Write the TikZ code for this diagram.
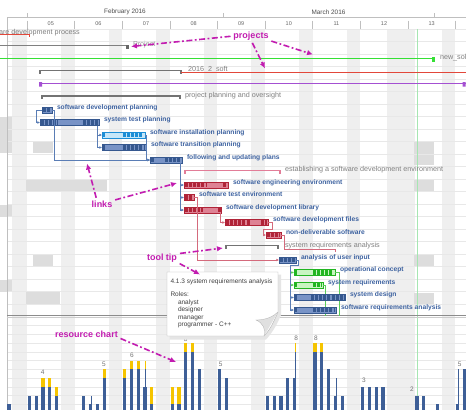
\documentclass[tikz,border=0pt]{standalone}
\usepackage{fontspec}
\setmainfont{Liberation Sans}
\usetikzlibrary{positioning,calc,arrows.meta}

\definecolor{taskblue}{HTML}{3D62A0}
\definecolor{barblue}{HTML}{7893C6}
\definecolor{darkblue}{HTML}{36588F}
\definecolor{barsky}{HTML}{C6E7F9}
\definecolor{darksky}{HTML}{1D8ED6}
\definecolor{barred}{HTML}{DE8294}
\definecolor{darkred}{HTML}{B02438}
\definecolor{bargreen}{HTML}{C8F5C2}
\definecolor{darkgreen}{HTML}{22B522}
\definecolor{linkblue}{HTML}{5A7DB5}
\definecolor{linkred}{HTML}{D46A7C}
\definecolor{linkgreen}{HTML}{5ACD5A}
\definecolor{sumgray}{HTML}{808080}
\definecolor{sumpink}{HTML}{E27D98}
\definecolor{weekend}{HTML}{EFEFEF}
\definecolor{freeblock}{HTML}{DDDDDD}
\definecolor{gridline}{HTML}{E8E8E8}
\definecolor{notepink}{HTML}{C21CB0}
\definecolor{loadblue}{HTML}{3E5F97}
\definecolor{loadyellow}{HTML}{F5C400}
\definecolor{projgreen}{HTML}{35E035}
\definecolor{projred}{HTML}{E2473A}
\definecolor{projpurple}{HTML}{A450D2}
\definecolor{todayline}{HTML}{A6E6B2}

\newcommand\ganttbar[7]{%
  \node[taskbar,fill=#5,draw=#6,minimum width={(#3-#2)*1pt}] (#1) at (#2,#4) {};
  \foreach \sa/\sb in {#7}
    \draw[#6,line width=4.6pt,dash pattern=on 3pt off 1.1pt] (\sa,#4) -- (\sb,#4);
}
\newcommand\summarybar[4]{%
  \draw[#4,line width=1.2pt] (#1,{#3+3}) -- (#1,#3) -- (#2,#3) -- (#2,{#3+3});
}

\begin{document}
\begin{tikzpicture}[x=1pt,y=-1pt,>={Latex[length=2.6pt,width=2.6pt]},
  every node/.style={inner sep=0pt,outer sep=0pt},
  taskbar/.style={rectangle,anchor=west,minimum height=6pt,line width=0.5pt},
  tasklabel/.style={right=5pt of #1,yshift=2.5pt,text=taskblue,text height=5pt,text depth=1.5pt,
    font=\bfseries\fontsize{6.7}{8}\selectfont},
  sumlabel/.style={anchor=west,text=sumgray,text height=5pt,text depth=1.5pt,font=\fontsize{7.2}{8}\selectfont},
  link/.style={->,line width=0.6pt},
  note/.style={text=notepink,font=\bfseries\fontsize{9}{10}\selectfont},
  notearrow/.style={notepink,line width=1.6pt,dash pattern=on 6pt off 2.5pt on 1.8pt off 2.5pt,
    shorten <=3pt,-{Latex[length=6pt,width=5.5pt]}},
  tiptext/.style={text=black!75,font=\fontsize{6.5}{7.5}\selectfont},
  loadlabel/.style={text=black!55,font=\fontsize{6.5}{7}\selectfont}]
\useasboundingbox[fill=white] (0,0) rectangle (466,410);

% calendar
\foreach \xa/\xb in {12/27,61/74.6,108.6/122.2,156.2/169.8,203.8/217.4,251.4/265,299/312.6,346.6/360.2,387.4/414.6,441.8/455.4}
  \fill[weekend] (\xa,28.75) rectangle (\xb,410);
\foreach \xa/\ya/\xb/\yb in {0/117/12/153,33/141/53/153,26/179/107/191,0/205/12/217,33/255/53/267,0/280/12/292,
    26/292/60/304,414/142/434/165,414/179/434/192,414/254/434/267,414/293/434/305}
  \fill[freeblock] (\xa,\ya) rectangle (\xb,\yb);
\foreach \j in {0,...,22}
  \draw[gridline,line width=0.5pt] (7,{28.75+12.5*\j}) -- (466,{28.75+12.5*\j});
\foreach \k in {1,...,10}
  \draw[gridline,line width=0.5pt] (7,{413-8.75*\k}) -- (466,{413-8.75*\k});
\draw[todayline,line width=0.8pt] (417.5,28.75) -- (417.5,410);
\draw[black!25,line width=0.5pt] (7,17) -- (466,17) (7,17) -- (7,410);
\foreach \m in {27,223,434} \draw[black!25,line width=0.5pt] (\m,13) -- (\m,17);
\foreach \i in {0,...,9} \draw[black!25,line width=0.5pt] ({27+47.6*\i},20.5) -- ({27+47.6*\i},28.75);
\draw[black!45,line width=0.9pt] (7,315.5) -- (466,315.5);
\draw[black!20,line width=0.5pt] (7,317.3) -- (466,317.3);
\node[text=black!70,font=\fontsize{6.4}{7}\selectfont] (feb) at (125,12.3) {February 2016};
\node[text=black!70,font=\fontsize{6.4}{7}\selectfont] (mar) at (328.5,12.3) {March 2016};
\foreach \w [count=\i from 0] in {05,06,07,08,09,10,11,12,13}
  \node[text=black!60,font=\fontsize{5.5}{6}\selectfont] (wk\w) at ({50.8+47.6*\i},23.3) {\w};

% projects
\draw[projred,line width=0.9pt] (0,34.3) -- (29.3,34.3) -- (29.3,37);
\node[sumlabel] (proc) at (-1,32.5) {are development process};
\draw[black!50,line width=1.3pt] (0,45.7) -- (127.7,45.7);
\fill[black!60] (126.2,44.5) rectangle (129,48.5);
\node[sumlabel,text=black!40] (proj) at (133,44.5) {Project};
\draw[projgreen,line width=1.3pt] (0,58.3) -- (433,58.3);
\fill[projgreen] (431.5,57) rectangle (434.5,61.5);
\node[sumlabel] (newsol) at (440,57.3) {new\_sol};
\summarybar{40}{181}{70.5}{black!55}
\node[sumlabel] (soft) at (188,69.5) {2016\_2\_soft};
\draw[projred,line width=0.9pt] (181,72) -- (466,72);
\draw[projpurple,line width=1.3pt] (40,83.3) -- (466,83.3);
\fill[projpurple] (39,82) rectangle (42,86.5) (462.5,82) rectangle (465.5,86.5);
\summarybar{42}{180}{96}{black!55}
\node[sumlabel] (plan) at (185,95.7) {project planning and oversight};

% tasks
\ganttbar{b6}{42}{52}{110}{barblue}{darkblue}{43/51}
\ganttbar{b7}{40}{99}{122.5}{barblue}{darkblue}{41/58,83/98}
\ganttbar{b8}{102}{145}{135}{barsky}{darksky}{102.5/104.5,123/143}
\ganttbar{b9}{102}{146}{147.5}{barblue}{darkblue}{102.5/105,123/145}
\ganttbar{b10}{150}{182}{160}{barblue}{darkblue}{151/154,165/181}
\summarybar{185}{280}{170.5}{sumpink}
\ganttbar{b12}{184}{228}{185}{barred}{darkred}{185/207,223/227}
\ganttbar{b13}{184}{194}{197.5}{barred}{darkred}{185/193}
\ganttbar{b14}{184}{221}{210}{barred}{darkred}{185/203,218/221}
\ganttbar{b15}{225}{268}{222.5}{barred}{darkred}{226/250,261/267}
\ganttbar{b16}{266}{281}{235}{barred}{darkred}{267/280}
\summarybar{226}{278}{245.5}{black!55}
\ganttbar{b18}{279}{296}{260}{barblue}{darkblue}{280/295}
\ganttbar{b19}{294}{335}{272.5}{bargreen}{darkgreen}{294.5/296.5,313/333}
\ganttbar{b20}{294}{323}{285}{bargreen}{darkgreen}{294.5/296.5,313/322}
\draw[linkgreen,line width=0.6pt] (b19.east) -- ++(4,0) -- (339,316);
\draw[linkgreen,line width=0.6pt] (b20.east) -- ++(2,0) -- (325,316);
\ganttbar{b21}{294}{345}{297.5}{barblue}{darkblue}{294.5/297,311/344}
\ganttbar{b22}{294}{336}{310}{barblue}{darkblue}{294.5/297,313/335}

\node[tasklabel=b6] (t6) {software development planning};
\node[tasklabel=b7] (t7) {system test planning};
\node[tasklabel=b8] (t8) {software installation planning};
\node[tasklabel=b9] (t9) {software transition planning};
\node[tasklabel=b10] (t10) {following and updating plans};
\node[sumlabel] (t11) at (285,170) {establishing a software development environment};
\node[tasklabel=b12] (t12) {software engineering environment};
\node[tasklabel=b13] (t13) {software test environment};
\node[tasklabel=b14] (t14) {software development library};
\node[tasklabel=b15] (t15) {software development files};
\node[tasklabel=b16] (t16) {non-deliverable software};
\node[sumlabel] (t17) at (285,245.3) {system requirements analysis};
\node[tasklabel=b18] (t18) {analysis of user input};
\node[tasklabel=b19] (t19) {operational concept};
\node[tasklabel=b20] (t20) {system requirements};
\node[tasklabel=b21] (t21) {system design};
\node[tasklabel=b22] (t22) {software requirements analysis};

% links
\draw[link,linkblue] (b6.west) -- ++(-6,0) |- (b7.west);
\draw[link,linkblue] (b6.east) -- ++(2,0) |- (b10.west);
\draw[link,linkblue] ([xshift=-1.5pt]b7.south east) |- (b8.west);
\draw[link,linkblue] ([xshift=-1.5pt]b7.south east) |- (b9.west);
\draw[link,linkblue] (b8.east) -- ++(1.5,0) |- (b10.west);
\draw[link,linkblue] (b9.east) -- ++(0.5,0) |- (b10.west);
\foreach \t in {b12,b13,b14}
  \draw[link,linkblue] ([xshift=-2pt]b10.south east) |- (\t.west);
\draw[link,linkred] (b13.east) -- ++(3,0) |- (b18.west);
\draw[link,linkred] ([xshift=-1pt]b14.south east) |- (b15.west);
\draw[link,linkred] (b15.east) -- ++(4,0) -- ++(0,6.5) -| ([xshift=-3pt]b16.west) -- (b16.west);
\coordinate (rq) at (335,249.3);
\draw[linkred,line width=0.6pt] (b16.east) -- ++(3,0) |- (rq) -- ++(0,2.5);
\coordinate (fork) at (290.5,265);
\draw[linkblue,line width=0.6pt] (b18.east) -- ++(2,0) -- ++(0,5) -| (fork);
\foreach \t/\c in {b19/linkgreen,b20/linkgreen,b21/linkblue,b22/linkblue}
  \draw[link,\c] (fork) |- (\t.west);

% resource chart
\foreach \xa/\vb/\vt/\vh in {8.9/1/1/0,29.3/2/2/0,36.1/2/2/0,42.9/3/4/0,49.7/3/4/0,56.5/2/3/0,83.7/2/2/0,
    90.5/1/1/2,97.3/1/1/0,104.1/4/5/0,124.5/4/5/0,131.3/5/6/0,138.1/5/6/0,144.9/3/3/5,151.7/1/3/0,
    172.1/1/3/0,178.9/1/3/0,185.7/7/8/0,192.5/7/8/0,199.3/5/5/0,219.7/5/5/0,226.5/4/4/0,267.3/2/2/0,
    274.1/2/2/0,280.9/2/2/0,287.7/4/4/0,294.5/4/4/7,314.9/7/8/0,321.7/7/8/0,328.5/5/5/0,335.3/2/2/4,
    342.1/2/2/0,362.5/3/3/0,369.3/3/3/0,376.1/3/3/0,382.9/3/3/0,416.9/2/2/0,423.7/2/2/0,437.3/1/1/0,
    457.7/1/1/5,464.5/5/5/0}{
  \fill[loadyellow] ({\xa-1.6},410) rectangle ({\xa+1.6},{413-8.75*\vt});
  \fill[loadblue] ({\xa-1.6},410) rectangle ({\xa+1.6},{413-8.75*\vb});
  \ifnum\vh>0 \draw[loadblue,line width=0.8pt] ({\xa+0.7},{413-8.75*\vb}) -- ({\xa+0.7},{413-8.75*\vh}); \fi
}
\draw[loadyellow,line width=0.8pt] (295.2,{413-8.75*7}) -- (295.2,{413-8.75*8});
\draw[loadyellow,line width=0.8pt] (145.6,{413-8.75*5}) -- (145.6,{413-8.75*6});
\foreach \xa/\ya/\v [count=\i] in {42.7/372.3/4,104/364.3/5,132/355.3/6,185.7/339.3/8,220.7/364.3/5,
    296.3/338.3/8,316/338.3/8,364/380/3,412/389/2,459.7/364/5}
  \node[loadlabel] (load\i) at (\xa,\ya) {\v};

% tool tip
\fill[black!10] (169.5,274.5) -- (281,274.5) -- (281,315) .. controls (276,327) and (271,334) .. (266,339.5) -- (169.5,339.5) -- cycle;
\filldraw[draw=black!30,fill=white,line width=0.4pt] (167,272) -- (278,272) -- (278,312)
  .. controls (273,324) and (269,331) .. (264,336) -- (167,336) -- cycle;
\filldraw[draw=black!30,fill=black!12,line width=0.3pt] (264,336) .. controls (266,329) and (263,323) .. (256,320)
  .. controls (265,320) and (273,317) .. (278,312);
\node[tiptext,anchor=west] (tiptitle) at (170.5,281.5) {4.1.3 system requirements analysis};
\node[tiptext,anchor=west] (tiproles) at (170.5,294) {Roles:};
\node[tiptext,anchor=north west,align=left] (tiplist) at (178,299.3) {analyst\\designer\\manager\\programmer - C++};

% notes
\node[note] (projects) at (251,36) {projects};
\node[note] (links) at (102,204) {links};
\node[note] (tooltip) at (162,258) {tool tip};
\node[note] (reschart) at (86.5,334) {resource chart};
\coordinate (pjA) at (131,46.5);
\coordinate (pjB) at (313,54.5);
\coordinate (pjC) at (265,68.5);
\coordinate (lkA) at (87,163.5);
\coordinate (lkB) at (177,183);
\coordinate (ttA) at (223,248);
\coordinate (ttB) at (200,274.5);
\coordinate (rcA) at (176,362);
\draw[notearrow] (projects.west) -- (pjA);
\draw[notearrow] (projects.south east) -- (pjB);
\draw[notearrow] (projects.south) -- (pjC);
\draw[notearrow] ([xshift=-5pt]links.north) -- (lkA);
\draw[notearrow] (links.north east) -- (lkB);
\draw[notearrow] (tooltip.north east) -- (ttA);
\draw[notearrow] (tooltip.south east) -- (ttB);
\draw[notearrow] (reschart.south east) -- (rcA);
\end{tikzpicture}
\end{document}
